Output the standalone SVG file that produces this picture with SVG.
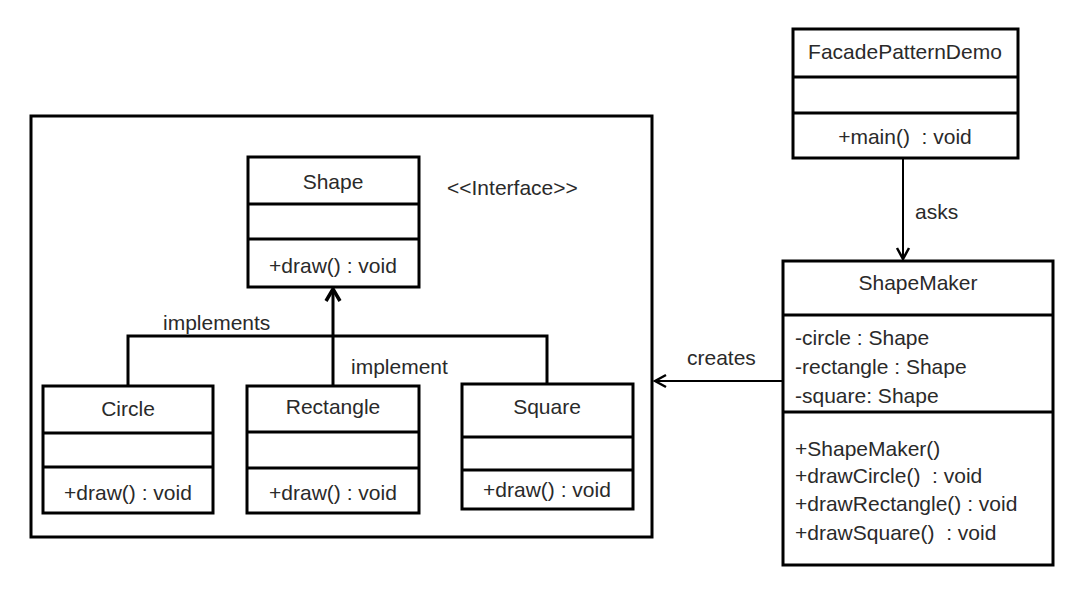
<svg xmlns="http://www.w3.org/2000/svg" width="1081" height="595" viewBox="0 0 1081 595">
<style>
  .box { fill: #ffffff; stroke: #000000; stroke-width: 3; }
  .div { stroke: #000000; stroke-width: 3; }
  .t { font-family: "Liberation Sans", Arial, sans-serif; font-size: 21px; fill: #2a2a2a; white-space: pre; }
  .c { text-anchor: middle; }
  .conn { fill: none; stroke: #000000; }
</style>
<defs>
  <marker id="headBig" viewBox="-16 -10 18 20" refX="0" refY="0" markerWidth="18" markerHeight="20" markerUnits="userSpaceOnUse" orient="auto">
    <path d="M-12,-7 L0,0 L-12,7" fill="none" stroke="#000" stroke-width="3.5"/>
  </marker>
  <marker id="headSmall" viewBox="-14 -9 16 18" refX="0" refY="0" markerWidth="16" markerHeight="18" markerUnits="userSpaceOnUse" orient="auto">
    <path d="M-11,-6 L0,0 L-11,6" fill="none" stroke="#000" stroke-width="2.5"/>
  </marker>
</defs>
<rect width="1081" height="595" fill="#ffffff"/>

<g id="container">
  <rect class="box" x="31" y="116" width="621" height="421" fill="none"/>
  <text class="t" x="447" y="195">&lt;&lt;Interface&gt;&gt;</text>
</g>

<g id="connectors">
  <path class="conn" stroke-width="3" d="M128,386 V336 H547 V384"/>
  <path class="conn" stroke-width="3" d="M333,386 V289" marker-end="url(#headBig)"/>
  <path class="conn" stroke-width="2" d="M903,158 V259" marker-end="url(#headSmall)"/>
  <path class="conn" stroke-width="2" d="M783,381 H655" marker-end="url(#headSmall)"/>
  <text class="t" x="163" y="330">implements</text>
  <text class="t" x="351" y="374">implement</text>
  <text class="t" x="915" y="219">asks</text>
  <text class="t" x="687" y="365">creates</text>
</g>

<g id="Shape">
  <rect class="box" x="248" y="157" width="171" height="130"/>
  <line class="div" x1="248" y1="204" x2="419" y2="204"/>
  <line class="div" x1="248" y1="239" x2="419" y2="239"/>
  <text class="t c" x="333" y="189">Shape</text>
  <text class="t c" x="333" y="273">+draw() : void</text>
</g>

<g id="Circle">
  <rect class="box" x="43" y="386" width="170" height="127"/>
  <line class="div" x1="43" y1="433" x2="213" y2="433"/>
  <line class="div" x1="43" y1="467" x2="213" y2="467"/>
  <text class="t c" x="128" y="416">Circle</text>
  <text class="t c" x="128" y="500">+draw() : void</text>
</g>

<g id="Rectangle">
  <rect class="box" x="247" y="386" width="172" height="127"/>
  <line class="div" x1="247" y1="432" x2="419" y2="432"/>
  <line class="div" x1="247" y1="468" x2="419" y2="468"/>
  <text class="t c" x="333" y="414">Rectangle</text>
  <text class="t c" x="333" y="500">+draw() : void</text>
</g>

<g id="Square">
  <rect class="box" x="462" y="384" width="171" height="125"/>
  <line class="div" x1="462" y1="437" x2="633" y2="437"/>
  <line class="div" x1="462" y1="470" x2="633" y2="470"/>
  <text class="t c" x="547" y="414">Square</text>
  <text class="t c" x="547" y="497">+draw() : void</text>
</g>

<g id="FacadePatternDemo">
  <rect class="box" x="793" y="29" width="225" height="129"/>
  <line class="div" x1="793" y1="77" x2="1018" y2="77"/>
  <line class="div" x1="793" y1="113" x2="1018" y2="113"/>
  <text class="t c" x="905" y="59">FacadePatternDemo</text>
  <text class="t c" x="905" y="144">+main()  : void</text>
</g>

<g id="ShapeMaker">
  <rect class="box" x="783" y="261" width="270" height="304"/>
  <line class="div" x1="783" y1="315" x2="1053" y2="315"/>
  <line class="div" x1="783" y1="412" x2="1053" y2="412"/>
  <text class="t c" x="918" y="290">ShapeMaker</text>
  <text class="t" x="795" y="345">-circle : Shape</text>
  <text class="t" x="795" y="374">-rectangle : Shape</text>
  <text class="t" x="795" y="403">-square: Shape</text>
  <text class="t" x="795" y="456">+ShapeMaker()</text>
  <text class="t" x="795" y="483">+drawCircle()  : void</text>
  <text class="t" x="795" y="511">+drawRectangle() : void</text>
  <text class="t" x="795" y="540">+drawSquare()  : void</text>
</g>
</svg>
